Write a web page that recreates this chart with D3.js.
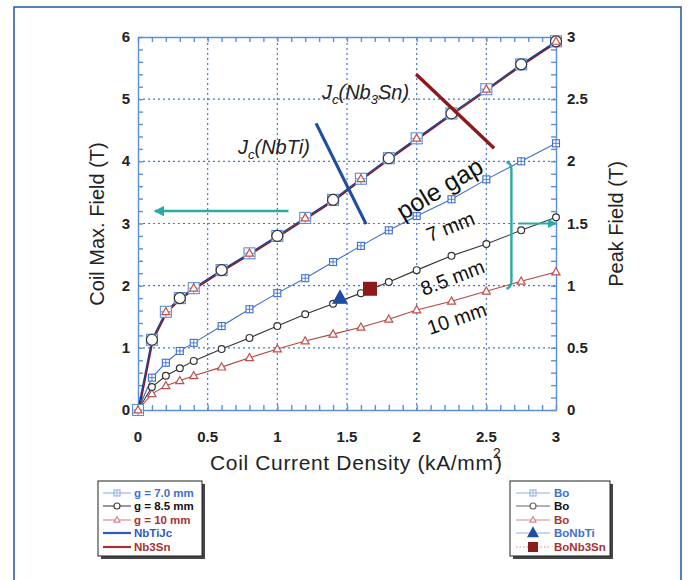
<!DOCTYPE html>
<html><head><meta charset="utf-8">
<script src="https://cdn.jsdelivr.net/npm/d3@7"></script>
<style>
body{margin:0;background:#fff;}
svg{display:block;font-family:"Liberation Sans",Arial,sans-serif;}
</style></head>
<body><svg id="c" width="688" height="580"></svg>
<script>
// ---------- DATA ----------
const current = [0,0.1,0.2,0.3,0.4,0.6,0.8,1.0,1.2,1.4,1.6,1.8,2.0,2.25,2.5,2.75,3.0];
const coilMaxField = [0,1.13,1.58,1.80,1.96,2.25,2.52,2.80,3.09,3.38,3.72,4.05,4.37,4.77,5.16,5.56,5.93];
const peakG70 = [0,0.26,0.38,0.475,0.54,0.675,0.81,0.94,1.06,1.19,1.32,1.445,1.56,1.695,1.855,2.0,2.145];
const peakG85 = [0,0.185,0.275,0.335,0.395,0.49,0.58,0.675,0.77,0.855,0.94,1.03,1.125,1.24,1.335,1.445,1.55];
const peakG10 = [0,0.13,0.195,0.235,0.275,0.345,0.42,0.49,0.555,0.61,0.665,0.73,0.805,0.875,0.955,1.035,1.11];
const jcNbTi = [[1.278,4.61],[1.637,2.99]];
const jcNb3Sn = [[1.996,5.40],[2.556,4.21]];
const boNbTi = [1.45,0.90];
const boNb3Sn = [1.665,0.975];
const xTicks = [0,0.5,1,1.5,2,2.5,3];
const yLeftTicks = [0,1,2,3,4,5,6];
const yRightTicks = [0,0.5,1,1.5,2,2.5,3];
const legendLeft = ["g = 7.0 mm","g = 8.5 mm","g = 10 mm","NbTiJc","Nb3Sn"];
const legendRight = ["Bo","Bo","Bo","BoNbTi","BoNb3Sn"];

// ---------- SETUP ----------
const svg = d3.select("#c");
const x = d3.scaleLinear().domain([0,3]).range([138,556]);
const yL = d3.scaleLinear().domain([0,6]).range([410,37]);
const yR = d3.scaleLinear().domain([0,3]).range([410,37]);
const AX = "#5b8fd9", GRID = "#4a78c8";
const BLUE="#3d6fd0", BLACK="#333", RED="#c0504d", NAVY="#1a3a8f", DRED="#8b1a1a", TEAL="#2aaaa6";

// frame
svg.append("rect").attr("x",14).attr("y",7).attr("width",667).attr("height",600)
  .attr("fill","none").attr("stroke","#2a62a8").attr("stroke-width",1.6);

// grid
const gridG = svg.append("g");
gridG.selectAll(".gx").data(xTicks.slice(1,-1)).join("line")
  .attr("x1",d=>x(d)).attr("x2",d=>x(d)).attr("y1",yL(0)).attr("y2",yL(6))
  .attr("stroke",GRID).attr("stroke-width",1.2).attr("stroke-dasharray","2,3");
gridG.selectAll(".gy").data(yLeftTicks.slice(1,-1)).join("line")
  .attr("y1",d=>yL(d)).attr("y2",d=>yL(d)).attr("x1",x(0)).attr("x2",x(3))
  .attr("stroke",GRID).attr("stroke-width",1.2).attr("stroke-dasharray","2,3");

// axes (ticks inward)
const minorX = d3.range(0,3.0001,0.1);
const minorY = d3.range(0,6.0001,0.2);
function styleAxis(sel){ sel.selectAll("path,line").attr("stroke",AX).attr("stroke-width",1.4); sel.selectAll("text").remove(); }
svg.append("g").attr("transform",`translate(0,${yL(0)})`).call(d3.axisBottom(x).tickValues(minorX).tickSize(-5).tickSizeOuter(0)).call(styleAxis);
svg.append("g").attr("transform",`translate(0,${yL(6)})`).call(d3.axisTop(x).tickValues(minorX).tickSize(-5).tickSizeOuter(0)).call(styleAxis);
svg.append("g").attr("transform",`translate(${x(0)},0)`).call(d3.axisLeft(yL).tickValues(minorY).tickSize(-5).tickSizeOuter(0)).call(styleAxis);
svg.append("g").attr("transform",`translate(${x(3)},0)`).call(d3.axisRight(yL).tickValues(minorY).tickSize(-5).tickSizeOuter(0)).call(styleAxis);

// tick labels
const fmt = d3.format("~g");
svg.append("g").selectAll("text").data(xTicks).join("text")
  .attr("x",d=>x(d)).attr("y",442).attr("text-anchor","middle")
  .attr("font-size",15).attr("font-weight","bold").attr("fill","#222").text(fmt);
svg.append("g").selectAll("text").data(yLeftTicks).join("text")
  .attr("x",130).attr("y",d=>yL(d)+5).attr("text-anchor","end")
  .attr("font-size",15).attr("font-weight","bold").attr("fill","#222").text(fmt);
svg.append("g").selectAll("text").data(yRightTicks).join("text")
  .attr("x",567).attr("y",d=>yR(d)+5).attr("text-anchor","start")
  .attr("font-size",15).attr("font-weight","bold").attr("fill","#222").text(fmt);

// axis titles
svg.append("text").attr("transform","translate(104,224) rotate(-90)").attr("text-anchor","middle")
  .attr("font-size",20).attr("fill","#222").text("Coil Max. Field (T)");
svg.append("text").attr("transform","translate(623,224) rotate(-90)").attr("text-anchor","middle")
  .attr("font-size",20).attr("fill","#222").text("Peak Field (T)");
svg.append("text").attr("x",210).attr("y",470).attr("font-size",21).attr("fill","#222")
  .attr("textLength",283).attr("lengthAdjust","spacing").text("Coil Current Density (kA/mm");
svg.append("text").attr("x",493).attr("y",458).attr("font-size",14).attr("fill","#222").text("2");
svg.append("text").attr("x",495).attr("y",470).attr("font-size",21).attr("fill","#222").text(")");

// marker helpers
function squareCross(sel,px,py,s,col){
  const gg = sel.append("g");
  gg.append("rect").attr("x",px-s/2).attr("y",py-s/2).attr("width",s).attr("height",s).attr("fill","#fff").attr("stroke",col).attr("stroke-width",1.1);
  gg.append("line").attr("x1",px).attr("x2",px).attr("y1",py-s/2).attr("y2",py+s/2).attr("stroke",col).attr("stroke-width",0.9);
  gg.append("line").attr("y1",py).attr("y2",py).attr("x1",px-s/2).attr("x2",px+s/2).attr("stroke",col).attr("stroke-width",0.9);
}
function circ(sel,px,py,r,col){ sel.append("circle").attr("cx",px).attr("cy",py).attr("r",r).attr("fill","#fff").attr("stroke",col).attr("stroke-width",1.2); }
function tri(sel,px,py,s,col,fill){
  const h=s*0.9;
  sel.append("path").attr("d",`M${px},${py-h*0.6}L${px+s/2},${py+h*0.4}L${px-s/2},${py+h*0.4}Z`)
    .attr("fill",fill||"#fff").attr("stroke",col).attr("stroke-width",1.2);
}

// lower curves (right axis)
const lineR = d3.line().x((d,i)=>x(current[i])).y(d=>yR(d));
const lineL = d3.line().x((d,i)=>x(current[i])).y(d=>yL(d));
const low = svg.append("g");
low.append("path").attr("d",lineR(peakG10)).attr("fill","none").attr("stroke","#b5453f").attr("stroke-width",1.1);
low.append("path").attr("d",lineR(peakG85)).attr("fill","none").attr("stroke",BLACK).attr("stroke-width",1.1);
low.append("path").attr("d",lineR(peakG70)).attr("fill","none").attr("stroke",BLUE).attr("stroke-width",1.1);
peakG10.forEach((v,i)=>tri(low,x(current[i]),yR(v),8,RED));
peakG85.forEach((v,i)=>circ(low,x(current[i]),yR(v),3.4,BLACK));
peakG70.forEach((v,i)=>squareCross(low,x(current[i]),yR(v),7,BLUE));

// top curve (left axis)
const topG = svg.append("g");
topG.append("path").attr("d",lineL(coilMaxField)).attr("transform","translate(0.9,0.9)").attr("fill","none").attr("stroke",DRED).attr("stroke-width",1.6);
topG.append("path").attr("d",lineL(coilMaxField)).attr("fill","none").attr("stroke",NAVY).attr("stroke-width",1.4);
coilMaxField.forEach((v,i)=>squareCross(topG,x(current[i]),yL(v),11,"#5b8fd9"));
coilMaxField.forEach((v,i)=>{ if(i%2===1||i===current.length-1) circ(topG,x(current[i]),yL(v),5.5,BLACK); });
coilMaxField.forEach((v,i)=>{ if(i%2===0) tri(topG,x(current[i]),yL(v),8,RED); });

// Jc lines
const jcLine = d3.line().x(d=>x(d[0])).y(d=>yL(d[1]));
svg.append("path").attr("d",jcLine(jcNbTi)).attr("stroke","#1f4ea0").attr("stroke-width",3.2).attr("fill","none");
svg.append("path").attr("d",jcLine(jcNb3Sn)).attr("stroke",DRED).attr("stroke-width",3.4).attr("fill","none");

// Jc labels
function jcLabel(px,py,parts){
  const t = svg.append("text").attr("x",px).attr("y",py).attr("font-size",20).attr("font-style","italic").attr("fill","#222");
  parts.forEach(p=>{ const s=t.append("tspan").text(p.t); if(p.sub){s.attr("font-size",13).attr("dy",5);} if(p.back){s.attr("dy",-5);} });
}
jcLabel(238,154,[{t:"J"},{t:"c",sub:true},{t:"(NbTi)",back:true}]);
jcLabel(322,99,[{t:"J"},{t:"c",sub:true},{t:"(Nb",back:true},{t:"3",sub:true},{t:"Sn)",back:true}]);

// Bo markers
const boG = svg.append("g");
tri(boG,x(boNbTi[0]),yR(boNbTi[1]),14,"#1f4ea0","#1f4ea0");
boG.append("rect").attr("x",x(boNb3Sn[0])-7).attr("y",yR(boNb3Sn[1])-7).attr("width",14).attr("height",14).attr("fill",DRED);

// teal arrows and bracket
const defs = svg.append("defs");
defs.append("marker").attr("id","ah").attr("viewBox","0 0 10 10").attr("refX",9).attr("refY",5)
  .attr("markerWidth",4).attr("markerHeight",4).attr("orient","auto")
  .append("path").attr("d","M0,0L10,5L0,10Z").attr("fill",TEAL);
svg.append("line").attr("x1",x(1.08)).attr("x2",x(0.12)).attr("y1",yL(3.2)).attr("y2",yL(3.2))
  .attr("stroke",TEAL).attr("stroke-width",2.6).attr("marker-end","url(#ah)");
svg.append("line").attr("x1",x(2.73)).attr("x2",x(3.0)).attr("y1",yR(1.5)).attr("y2",yR(1.5))
  .attr("stroke",TEAL).attr("stroke-width",2.2).attr("marker-end","url(#ah)");
const bx = x(2.68), bt1 = yL(3.99), bb = yL(1.95);
svg.append("path").attr("d",`M${bx-5},${bt1}Q${bx},${bt1+1} ${bx},${bt1+8}L${bx},${bb-8}Q${bx},${bb-1} ${bx-5},${bb}`)
  .attr("fill","none").attr("stroke",TEAL).attr("stroke-width",2.4);

// rotated labels
function rlab(txt,cx,cy,ang,fs){ svg.append("text").attr("transform",`translate(${cx},${cy}) rotate(${ang})`)
  .attr("text-anchor","middle").attr("font-size",fs).attr("fill","#111").text(txt); }
rlab("pole gap",444,196,-31,25);
rlab("7 mm",453,233,-22,20);
rlab("8.5 mm",455,284,-21,20);
rlab("10 mm",459,325,-19,20);

// legends
function legendBox(x0,y0,w,h){
  svg.append("rect").attr("x",x0+3).attr("y",y0+3).attr("width",w).attr("height",h).attr("fill","#444");
  svg.append("rect").attr("x",x0).attr("y",y0).attr("width",w).attr("height",h).attr("fill","#fff").attr("stroke","#222").attr("stroke-width",1);
}
const rowY = [493,506,520,533,547];
legendBox(98,481,104,75);
const lcols = [BLUE,"#111","#a83232","#2a5bc4","#a83232"];
const lg = svg.append("g");
legendLeft.forEach((t,i)=>{
  const yy=rowY[i];
  const lc = i===0?"#8fb0e8":i===1?"#444":i===2?"#d08a85":i===3?"#2a5bc4":"#a83232";
  lg.append("line").attr("x1",103).attr("x2",131).attr("y1",yy).attr("y2",yy).attr("stroke",lc).attr("stroke-width",i>=3?2.2:1.1);
  if(i===0) squareCross(lg,117,yy,6,"#8fb0e8");
  if(i===1) circ(lg,117,yy,3,"#444");
  if(i===2) tri(lg,117,yy,6,"#d08a85");
  lg.append("text").attr("x",134).attr("y",yy+4).attr("font-size",11.5).attr("font-weight","bold").attr("fill",lcols[i]).text(t);
});
legendBox(510,481,100,75);
const rcols = ["#3d6fd0","#111","#a83232","#3d6fd0","#a83232"];
const rg = svg.append("g");
legendRight.forEach((t,i)=>{
  const yy=rowY[i];
  const lc = i===0?"#8fb0e8":i===1?"#666":i===2?"#d08a85":i===3?"#8fb0e8":"#d08a85";
  rg.append("line").attr("x1",516).attr("x2",550).attr("y1",yy).attr("y2",yy).attr("stroke",lc).attr("stroke-width",1.1)
    .attr("stroke-dasharray",i===4?"1.5,2":null);
  if(i===0) squareCross(rg,533,yy,6,"#8fb0e8");
  if(i===1) circ(rg,533,yy,3,"#666");
  if(i===2) tri(rg,533,yy,6,"#d08a85");
  if(i===3) tri(rg,533,yy,10,"#1f4ea0","#1f4ea0");
  if(i===4) rg.append("rect").attr("x",528).attr("y",yy-5).attr("width",10).attr("height",10).attr("fill",DRED);
  rg.append("text").attr("x",554).attr("y",yy+4).attr("font-size",11.5).attr("font-weight","bold").attr("fill",rcols[i]).text(t);
});
</script></body></html>
